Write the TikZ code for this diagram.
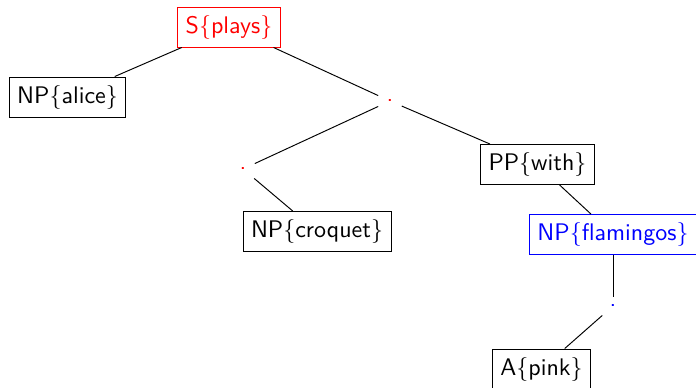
\documentclass[tikz,border=0pt]{standalone}
\usepackage{tikz}
\begin{document}
\begin{tikzpicture}[x=0.41667pt,y=-0.41667pt,
  every node/.style={font=\sffamily},
  tbox/.style={draw},
  rbox/.style={draw=red,text=red},
  bbox/.style={draw=blue,text=blue},
  rdot/.style={text=red},
  bdot/.style={text=blue}]
\useasboundingbox (0,0) rectangle (696,387);
\node[rbox] (s) at (229,27) {S\{plays\}};
\node[tbox] (alice) at (67.5,97) {NP\{alice\}};
\node[rdot] (d1) at (390,101) {.};
\node[rdot] (d2) at (243,169) {.};
\node[tbox] (pp) at (537.5,164.5) {PP\{with\}};
\node[tbox] (croquet) at (317,231.5) {NP\{croquet\}};
\node[bbox] (fl) at (613,234.5) {NP\{flamingos\}};
\node[bdot] (d3) at (613,306) {.};
\node[tbox] (pink) at (541.5,369) {A\{pink\}};
\draw (s) -- (alice);
\draw (s) -- (d1);
\draw (d1) -- (d2);
\draw (d1) -- (pp);
\draw (d2) -- (croquet);
\draw (pp) -- (fl);
\draw (fl) -- (d3);
\draw (d3) -- (pink);
\end{tikzpicture}
\end{document}
